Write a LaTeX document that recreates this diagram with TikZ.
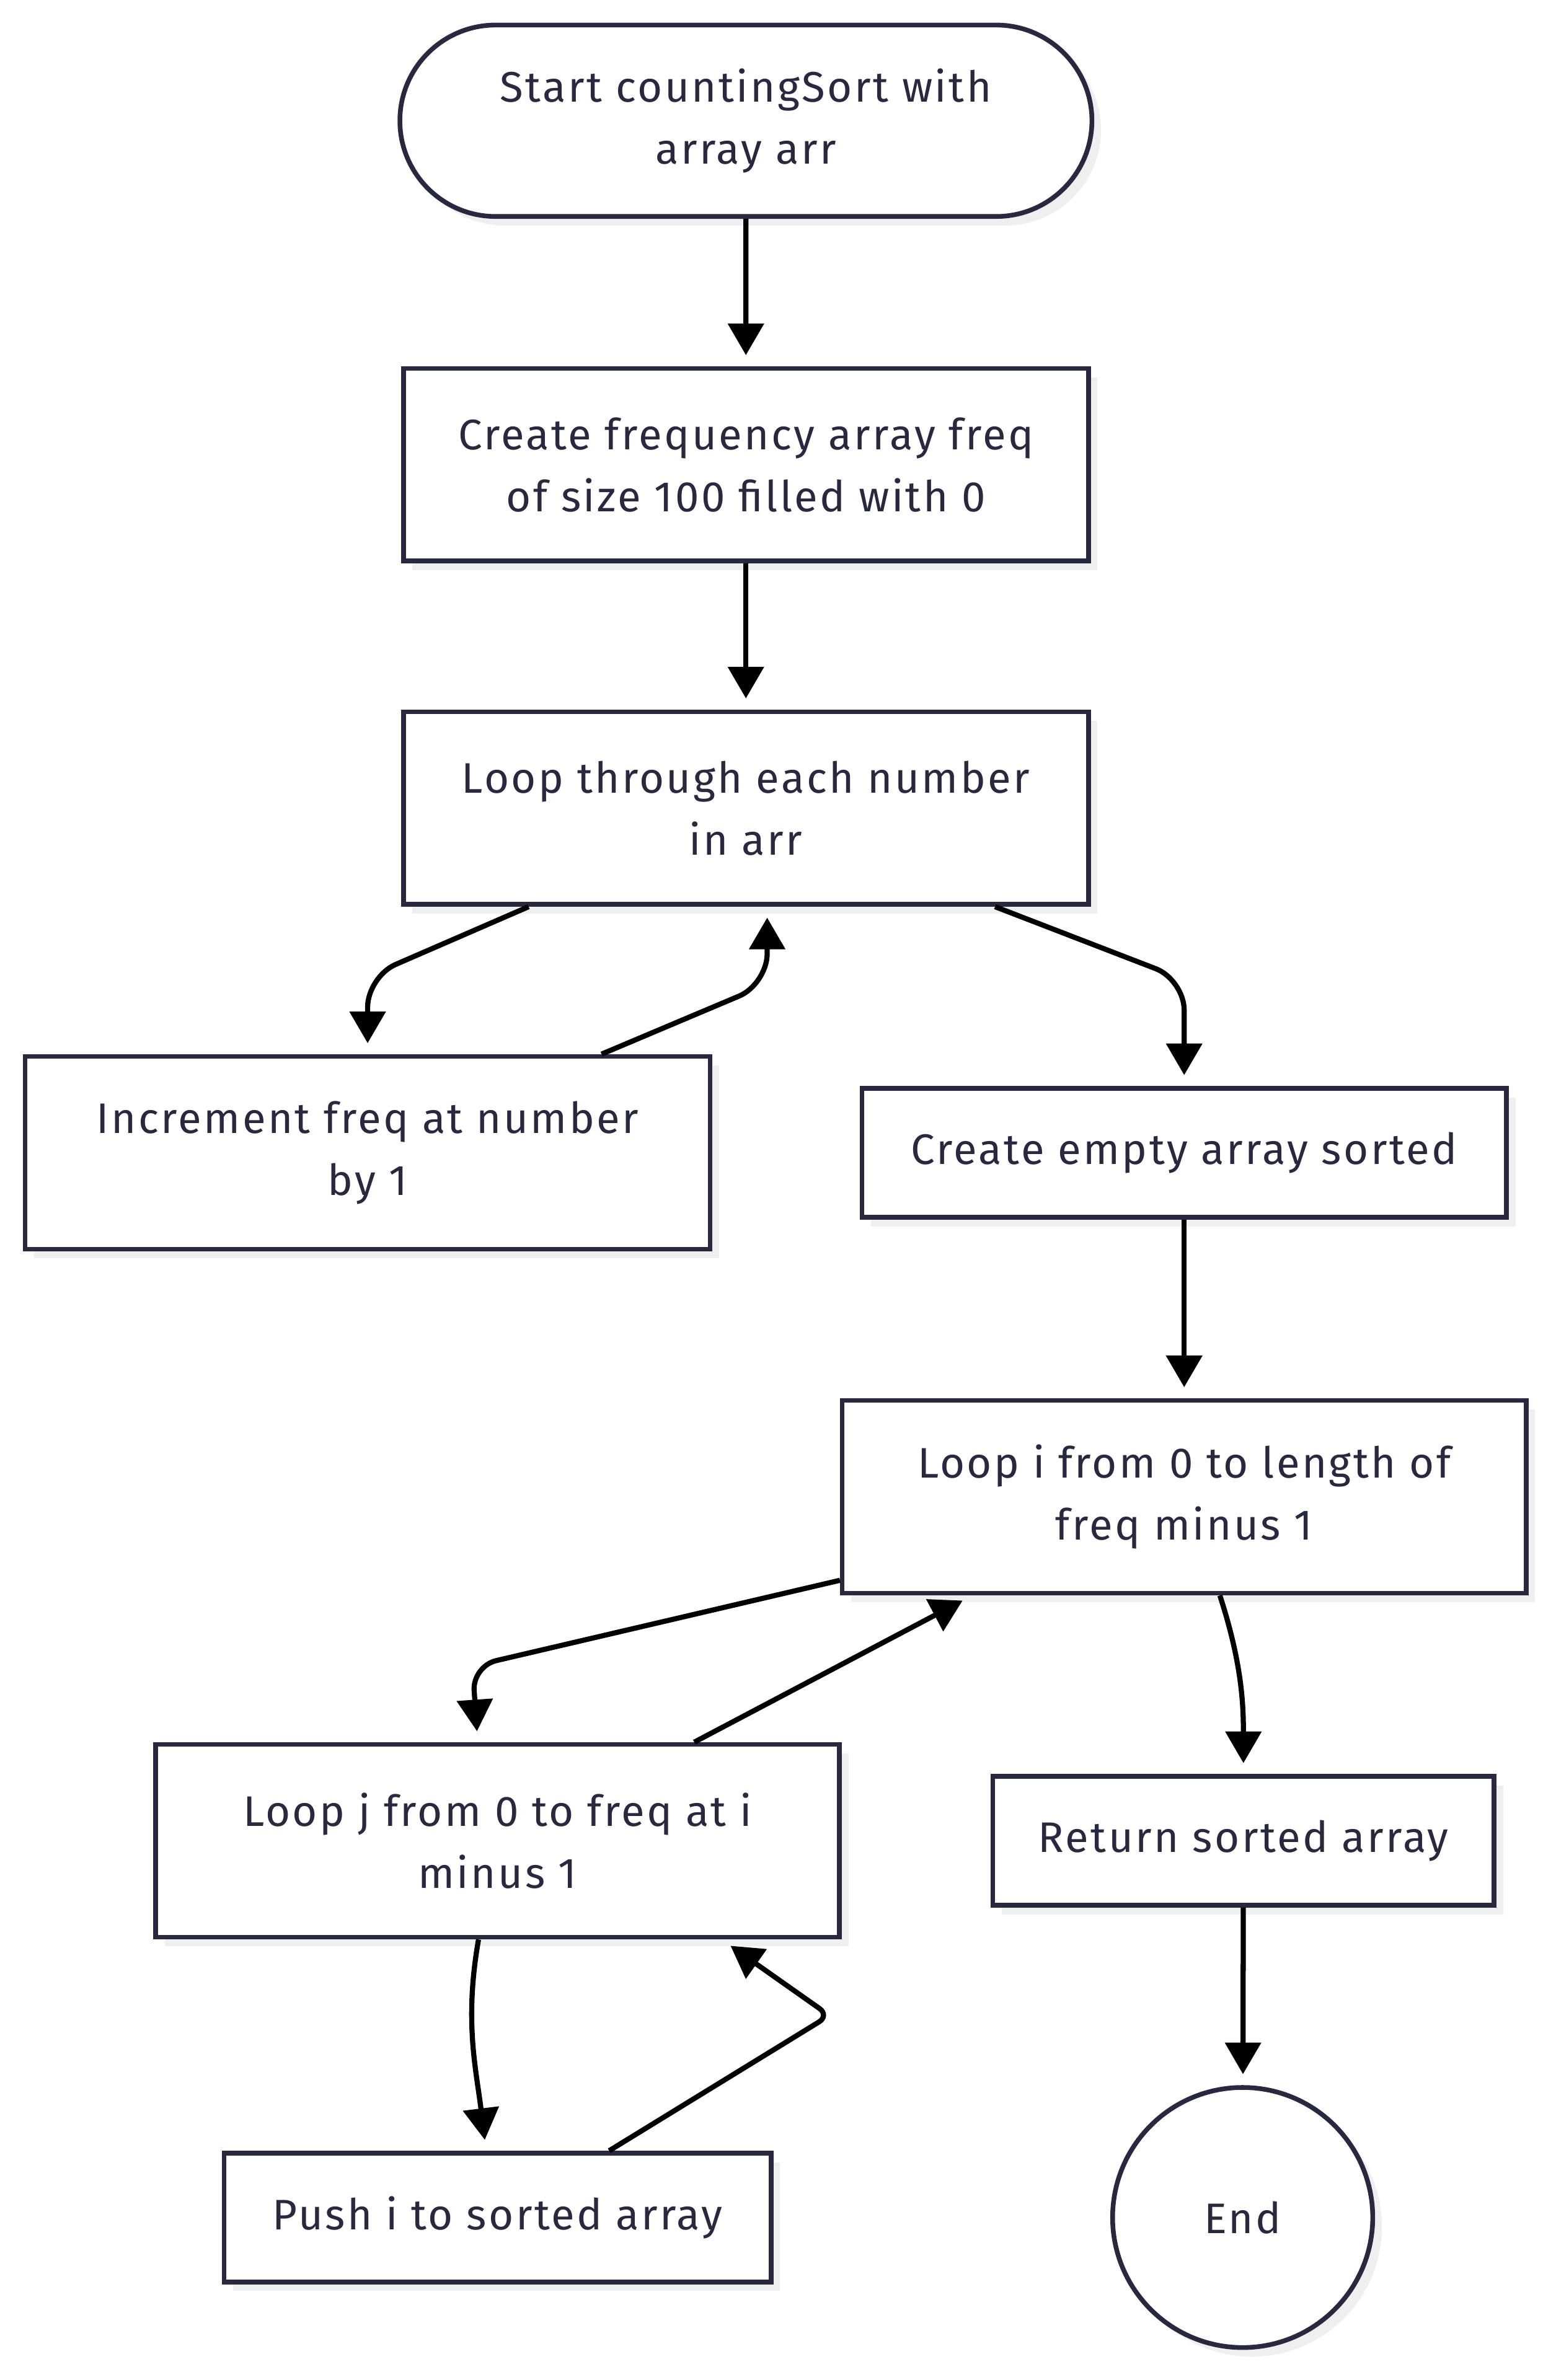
\documentclass[tikz,border=0pt]{standalone}
\usepackage{fontspec}
\setmainfont{Fira Sans}[LetterSpace=5]
\usepackage{tikz}
\usetikzlibrary{positioning,arrows.meta,shapes.misc,shadows,calc}
\definecolor{boxline}{HTML}{2A283E}
\definecolor{boxshadow}{HTML}{EFEFEF}

\begin{document}
\begin{tikzpicture}[x=0.025cm,y=0.025cm,
    >={Triangle[length=0.52cm,width=0.58cm]},
    every node/.style={font=\fontsize{20}{29}\selectfont,text=boxline,align=center},
    boxed/.style={draw=boxline,line width=2.2pt,fill=white,
        drop shadow={shadow xshift=0.15cm,shadow yshift=-0.15cm,fill=boxshadow,opacity=1}},
    proc/.style={boxed,rectangle,minimum height=3.17cm},
    slim/.style={boxed,rectangle,minimum height=2.12cm},
    flow/.style={->,draw=black,line width=2.4pt,shorten >=0.18cm}]
    \path[use as bounding box] (0,0) rectangle (1024,-1567);

    \node[boxed,rounded rectangle,minimum width=11.62cm,minimum height=3.15cm] (start) at (491,-79.5) {Start countingSort with\\array arr};
    \node[proc,minimum width=11.27cm] (freq) at (491,-306) {Create frequency array freq\\of size 100 filled with 0};
    \node[proc,minimum width=11.27cm] (loop) at (491,-532) {Loop through each number\\in arr};
    \node[proc,minimum width=11.27cm] (inc) at (242,-759) {Increment freq at number\\by 1};
    \node[slim,minimum width=10.6cm] (empty) at (779.5,-759) {Create empty array sorted};
    \node[proc,minimum width=11.25cm] (loopi) at (779.5,-985.5) {Loop i from 0 to length of\\freq minus 1};
    \node[proc,minimum width=11.25cm] (loopj) at (327.5,-1212) {Loop j from 0 to freq at i\\minus 1};
    \node[slim,minimum width=8.25cm] (ret) at (818.5,-1212) {Return sorted array};
    \node[slim,minimum width=9cm] (push) at (327.5,-1460) {Push i to sorted array};
    \node[boxed,circle,minimum size=4.28cm] (end) at (818,-1460) {End};

    \path[flow]
        (start) edge (freq)
        (freq) edge (loop)
        (empty) edge (loopi)
        (ret) edge (end);
    \draw[flow,rounded corners=0.5cm] ($(loop.south)+(-143,0)$) -- (242,-643) -- (inc.north);
    \draw[flow,rounded corners=0.5cm] ($(inc.north)+(154,0)$) -- (505,-648) -- ($(loop.south)+(14,0)$);
    \draw[flow,rounded corners=0.5cm] ($(loop.south)+(164,0)$) -- (779.5,-645) -- (empty.north);
    \draw[flow,rounded corners=0.4cm] ($(loopi.south west)+(0,10)$) -- (311,-1097) -- ($(loopj.north)+(-13,0)$);
    \draw[flow] ($(loopj.north)+(129.5,0)$) -- ($(loopi.south)+(-139.5,0)$);
    \draw[flow] ($(loopi.south)+(23.5,0)$) to[out=-72,in=90] (ret.north);
    \draw[flow] ($(loopj.south)+(-12.5,0)$) to[out=-100,in=97] ($(push.north)+(-7.5,0)$);
    \draw[flow,rounded corners=0.2cm] ($(push.north)+(73.5,0)$) -- (546,-1327) -- ($(loopj.south)+(147.5,0)$);
\end{tikzpicture}
\end{document}
